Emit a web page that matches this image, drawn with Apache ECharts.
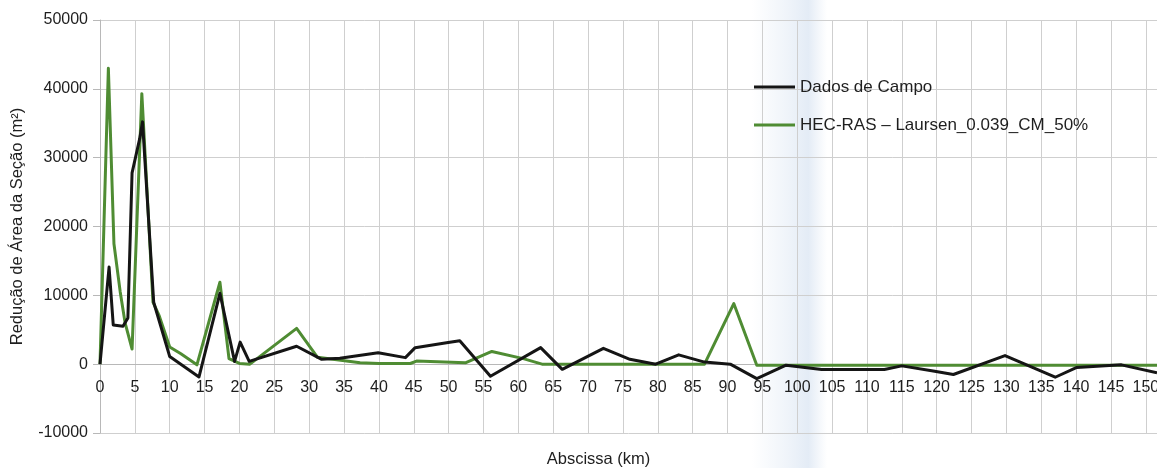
<!DOCTYPE html>
<html>
<head>
<meta charset="utf-8">
<title>Redução de Área da Seção</title>
<script src="https://cdn.jsdelivr.net/npm/echarts@6/dist/echarts.min.js"></script>
<style>
  html, body { margin: 0; padding: 0; background: #ffffff; }
  #chart { width: 1157px; height: 468px; }
</style>
</head>
<body>
<div id="chart"></div>
<script>
// Field survey: section area reduction (m²) along the river (km)
const fieldKm   = [0, 1.3, 1.9, 3.3, 4.0, 4.6, 5.7, 6.1, 7.7, 10.0, 14.2, 17.2, 19.3, 20.1, 21.4, 28.2, 31.8, 34.4, 39.9, 43.8, 45.2, 49.7, 51.6, 56.0, 63.2, 66.3, 72.2, 76.0, 79.7, 83.0, 86.7, 90.4, 94.2, 98.4, 103.5, 112.5, 115.0, 119.5, 122.4, 129.8, 137.0, 140.1, 146.5, 151.6];
const fieldArea = [0, 14100, 5700, 5500, 6700, 27800, 32800, 35200, 9000, 1100, -1850, 10300, 400, 3200, 400, 2600, 700, 850, 1650, 950, 2400, 3100, 3400, -1750, 2400, -750, 2300, 700, 0, 1350, 300, 0, -2100, -150, -770, -770, -250, -1000, -1500, 1250, -1900, -480, -100, -1260];

// HEC-RAS simulation (Laursen, n = 0.039, CM 50%)
const hecKm   = [0, 1.2, 2.0, 2.9, 3.6, 4.6, 6.0, 7.6, 8.5, 10.0, 11.6, 13.9, 17.2, 18.5, 20.0, 21.5, 28.2, 31.2, 37.3, 40.0, 44.5, 45.4, 52.4, 56.2, 60.7, 63.4, 86.7, 90.9, 94.2, 151.6];
const hecArea = [0, 43000, 17500, 10500, 6000, 2200, 39300, 9000, 7000, 2500, 1500, -100, 11900, 800, 100, 0, 5200, 1000, 200, 100, 100, 450, 200, 1850, 800, 0, 0, 8800, -150, -150];

const seriesNames = ['Dados de Campo', 'HEC-RAS \u2013 Laursen_0.039_CM_50%'];
const xRange = [0, 151.6];
const xStep = 5;
const yRange = [-10000, 50000];
const yStep = 10000;

const pairs = (xs, ys) => xs.map((x, i) => [x, ys[i]]);

const font = 'Liberation Sans, Arial, sans-serif';
const gridColor = '#cfcfcf';
const textColor = '#1e1e1e';

const grid = { left: 100, right: 0, top: 20, bottom: 35 };
const plotHeight = 468 - grid.top - grid.bottom;
// Lift the abscissa so it sits on the y = 0 line
const zeroLift = plotHeight * (0 - yRange[0]) / (yRange[1] - yRange[0]);

const chart = echarts.init(document.getElementById('chart'));
chart.setOption({
  backgroundColor: '#ffffff',
  animation: false,
  textStyle: { fontFamily: font },
  grid: Object.assign({ containLabel: false, outerBoundsMode: 'none' }, grid),
  graphic: [{
    type: 'rect',
    z: -10,
    silent: true,
    shape: { x: 752, y: 0, width: 75, height: 468 },
    style: {
      fill: new echarts.graphic.LinearGradient(0, 0, 1, 0, [
        { offset: 0, color: 'rgba(205,220,238,0)' },
        { offset: 0.45, color: 'rgba(205,220,238,0.3)' },
        { offset: 0.75, color: 'rgba(200,216,236,0.5)' },
        { offset: 1, color: 'rgba(205,220,238,0)' }
      ])
    }
  }],
  legend: {
    orient: 'vertical',
    left: 749,
    top: 72,
    data: seriesNames,
    icon: 'rect',
    itemWidth: 41,
    itemHeight: 3,
    itemGap: 18,
    textStyle: { fontFamily: font, fontSize: 17, color: textColor, lineHeight: 20 }
  },
  xAxis: {
    type: 'value',
    min: xRange[0],
    max: xRange[1],
    interval: xStep,
    position: 'bottom',
    offset: -zeroLift,
    name: 'Abscissa (km)',
    nameLocation: 'middle',
    nameGap: 87,
    nameTextStyle: { fontFamily: font, fontSize: 16.5, color: textColor, padding: [0, 60, 0, 0] },
    axisLine: { onZero: false, lineStyle: { color: '#b8b8b8', width: 1 } },
    axisTick: { show: false },
    axisLabel: { fontFamily: font, fontSize: 16, color: textColor, margin: 15, showMaxLabel: false },
    splitLine: { show: true, lineStyle: { color: gridColor, width: 1 } }
  },
  yAxis: {
    type: 'value',
    min: yRange[0],
    max: yRange[1],
    interval: yStep,
    name: 'Redução de Área da Seção (m²)',
    nameLocation: 'middle',
    nameRotate: 90,
    nameGap: 74,
    nameTextStyle: { fontFamily: font, fontSize: 16.5, color: textColor },
    axisLine: { show: true, lineStyle: { color: '#b8b8b8', width: 1 } },
    axisTick: { show: true, length: 7, lineStyle: { color: '#b8b8b8' } },
    axisLabel: { fontFamily: font, fontSize: 16, color: textColor, margin: 12, formatter: v => String(v) },
    splitLine: { show: true, lineStyle: { color: gridColor, width: 1 } }
  },
  series: [
    {
      name: seriesNames[1],
      type: 'line',
      data: pairs(hecKm, hecArea),
      symbol: 'none',
      z: 2,
      lineStyle: { color: '#4f8c33', width: 3, join: 'round' },
      itemStyle: { color: '#4f8c33' }
    },
    {
      name: seriesNames[0],
      type: 'line',
      data: pairs(fieldKm, fieldArea),
      symbol: 'none',
      z: 3,
      lineStyle: { color: '#151515', width: 3, join: 'round' },
      itemStyle: { color: '#151515' }
    }
  ]
});
</script>
</body>
</html>
